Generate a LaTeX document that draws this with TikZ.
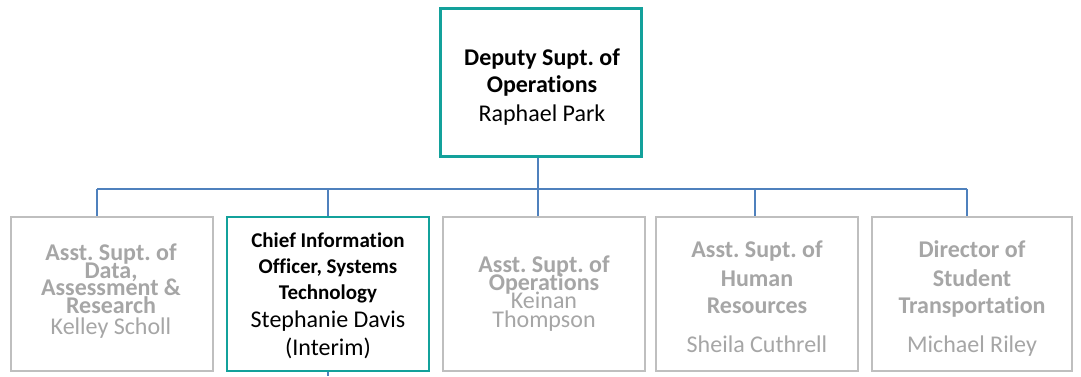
\documentclass[tikz,border=0pt]{standalone}
\usepackage{fontspec}
\setmainfont{Carlito}[Ligatures=NoCommon]
\frenchspacing
\definecolor{tealc}{HTML}{13A19B}
\definecolor{boxgray}{HTML}{BFBFBF}
\definecolor{txtgray}{HTML}{A6A6A6}
\definecolor{connc}{HTML}{4F81BD}
\newcommand\fsz[1]{\fontsize{#1}{#1}\selectfont}
\tikzset{
  orgbox/.style={draw=boxgray, line width=2.5pt, minimum width=202pt, minimum height=154pt, inner sep=0pt, fill=white},
  actbox/.style={orgbox, draw=tealc, line width=2pt},
  topbox/.style={orgbox, draw=tealc, line width=3pt, minimum width=201pt, minimum height=148pt},
  ln/.style={anchor=base, inner sep=0pt},
  gt/.style={ln, text=txtgray, font=\frenchspacing\fsz{24pt}\bfseries},
  gn/.style={ln, text=txtgray, font=\frenchspacing\fsz{24pt}},
  conn/.style={draw=connc, line width=1.2pt},
}
\begin{document}
\begin{tikzpicture}[x=1pt, y=-1pt]
\useasboundingbox (0,0) rectangle (1081,376);
% boxes
\node[topbox] (top) at (541,82.5) {};
\node[orgbox] (b1) at (112,294) {};
\node[actbox] (b2) at (328,294) {};
\node[orgbox] (b3) at (544,294) {};
\node[orgbox] (b4) at (757,294) {};
\node[orgbox, minimum width=200pt] (b5) at (972,294) {};
% connectors
\coordinate (bus0) at (538,189);
\coordinate (bus1) at (97,189);
\coordinate (bus2) at (328,189);
\coordinate (bus4) at (755,189);
\coordinate (bus5) at (967,189);
\coordinate (tail) at (328,376);
\draw[conn] (top.south -| bus0) -- (bus0);
\draw[conn] (bus1) -- (bus5);
\draw[conn] (bus1) -- (bus1 |- b1.north);
\draw[conn] (bus2) -- (b2.north);
\draw[conn] (bus0) -- (bus0 |- b3.north);
\draw[conn] (bus4) -- (bus4 |- b4.north);
\draw[conn] (bus5) -- (bus5 |- b5.north);
\draw[conn] (b2.south) -- (tail);
% top texts
\node[ln, font=\frenchspacing\fsz{24pt}\bfseries] (t1) at (542,65) {Deputy Supt. of};
\node[ln, font=\frenchspacing\fsz{24pt}\bfseries] (t2) at (542,92) {Operations};
\node[ln, font=\frenchspacing\fsz{24pt}] (t3) at (542,121) {Raphael Park};
% box 1
\node[gt] (a1) at (111,260) {Asst. Supt. of};
\node[gt] (a2) at (111,278) {Data,};
\node[gt] (a3) at (111,295) {Assessment \&};
\node[gt] (a4) at (111,313) {Research};
\node[gn] (a5) at (111,334) {Kelley Scholl};
% box 2
\node[ln, font=\frenchspacing\fsz{21pt}\bfseries] (c1) at (328,247) {Chief Information};
\node[ln, font=\frenchspacing\fsz{21pt}\bfseries] (c2) at (328,273) {Officer, Systems};
\node[ln, font=\frenchspacing\fsz{21pt}\bfseries] (c3) at (328,299) {Technology};
\node[ln, font=\frenchspacing\fsz{24pt}] (c4) at (328,327) {Stephanie Davis};
\node[ln, font=\frenchspacing\fsz{24pt}] (c5) at (328,355) {(Interim)};
% box 3
\node[gt] (d1) at (544,272) {Asst. Supt. of};
\node[gt] (d2) at (544,290) {Operations};
\node[gn] (d3) at (544,308) {Keinan};
\node[gn] (d4) at (544,327) {Thompson};
% box 4
\node[gt] (e1) at (757,257) {Asst. Supt. of};
\node[gt] (e2) at (757,286) {Human};
\node[gt] (e3) at (757,313) {Resources};
\node[gn] (e4) at (757,352) {Sheila Cuthrell};
% box 5
\node[gt] (f1) at (972,257) {Director of};
\node[gt] (f2) at (972,286) {Student};
\node[gt] (f3) at (972,313) {Transportation};
\node[gn] (f4) at (972,352) {Michael Riley};
\end{tikzpicture}
\end{document}
